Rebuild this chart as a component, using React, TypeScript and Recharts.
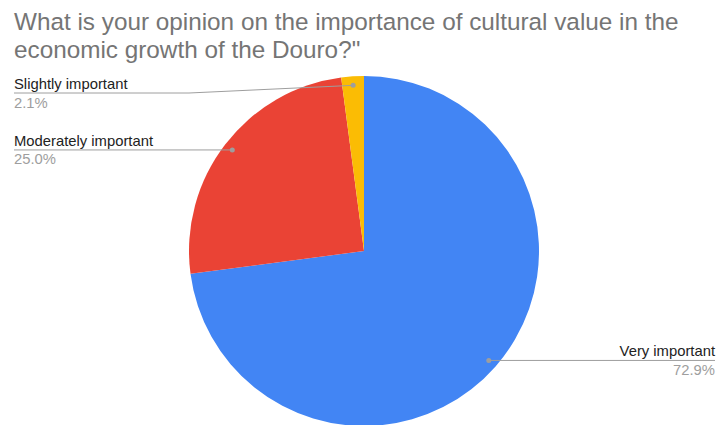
import { Cell, Pie, PieChart } from "recharts"

// survey answers (48 responses)
const categories = ["Very important", "Moderately important", "Slightly important"]
const responses = [35, 12, 1]
const sliceColors = ["#4285F4", "#EA4335", "#FBBC04"]
const titleLines = [
  "What is your opinion on the importance of cultural value in the",
  "economic growth of the Douro?\"",
]

const pieData = categories.map((name, i) => ({ name, value: responses[i] }))

const FONT = "'Liberation Sans', Arial, sans-serif"
const RAD = Math.PI / 180

function renderLabel(props: any) {
  const { cx, cy, midAngle, outerRadius, percent, name } = props
  const r = outerRadius - 9
  const dx = Math.cos(-midAngle * RAD)
  const dy = Math.sin(-midAngle * RAD)
  const px = cx + r * dx
  const py = cy + r * dy
  const left = dx < 0
  // keep labels clear of the title
  const lineY = Math.max(py, cy - outerRadius + 17)
  const endX = left ? 14 : 715
  const elbowX = left ? cx - outerRadius : cx + outerRadius
  return (
    <g>
      <polyline
        points={`${endX},${lineY} ${elbowX},${lineY} ${px},${py}`}
        fill="none"
        stroke="#9e9e9e"
        strokeWidth={1}
      />
      <circle cx={px} cy={py} r={2.5} fill="#9e9e9e" />
      <text
        x={endX}
        y={lineY - 4}
        textAnchor={left ? "start" : "end"}
        fontFamily={FONT}
        fontSize={14.8}
        fill="#222222"
      >
        {name}
      </text>
      <text
        x={endX}
        y={lineY + 14.5}
        textAnchor={left ? "start" : "end"}
        fontFamily={FONT}
        fontSize={14.8}
        fill="#9e9e9e"
      >
        {`${(percent * 100).toFixed(1)}%`}
      </text>
    </g>
  )
}

export default function App() {
  return (
    <div style={{ position: "absolute", left: 0, top: 0, width: 716, height: 425, background: "#fff" }}>
      <div style={{ position: "absolute", left: 0, top: 0 }}>
        <PieChart width={716} height={425} margin={{ top: 0, right: 0, bottom: 0, left: 0 }}>
          <Pie
            data={pieData}
            dataKey="value"
            nameKey="name"
            cx={364}
            cy={251}
            outerRadius={175}
            startAngle={90}
            endAngle={-270}
            stroke="none"
            labelLine={false}
            label={renderLabel}
            isAnimationActive={false}
          >
            {pieData.map((entry, index) => (
              <Cell key={`cell-${index}`} fill={sliceColors[index % sliceColors.length]} />
            ))}
          </Pie>
        </PieChart>
      </div>
      {/* title, two lines */}
      <svg
        width={716}
        height={70}
        style={{ position: "absolute", left: 0, top: 0, pointerEvents: "none" }}
      >
        <text fontFamily={FONT} fontSize={24.3} fill="#757575">
          <tspan x={14} y={30}>
            {titleLines[0]}
          </tspan>
          <tspan x={14} y={57.6}>
            {titleLines[1]}
          </tspan>
        </text>
      </svg>
    </div>
  )
}
